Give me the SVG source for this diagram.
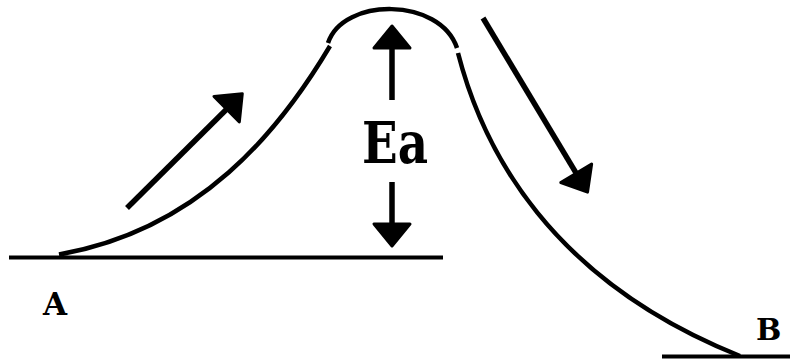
<svg xmlns="http://www.w3.org/2000/svg" width="790" height="359" viewBox="0 0 790 359">
  <style>
    .curve { fill: none; stroke: #000; stroke-width: 4.5; stroke-linecap: butt; }
    .level { fill: none; stroke: #000; stroke-width: 4; }
    .shaft { fill: none; stroke: #000; stroke-width: 5.5; marker-end: url(#head); }
    .lbl { font-family: "DejaVu Serif", "Liberation Serif", serif; font-weight: bold; fill: #000; }
  </style>
  <defs>
    <marker id="head" viewBox="0 0 24 38" refX="14" refY="19" markerWidth="24" markerHeight="38" markerUnits="userSpaceOnUse" orient="auto" overflow="visible">
      <path d="M1,1 L23,19 L1,37 Z" fill="#000" stroke="#000" stroke-width="3" stroke-linejoin="round"/>
    </marker>
  </defs>
  <rect width="790" height="359" fill="#fff"/>
  <g id="levelA">
    <line class="level" x1="9" y1="257.5" x2="443" y2="257.5"/>
  </g>
  <g id="levelB">
    <line class="level" x1="662" y1="356.5" x2="790" y2="356.5"/>
  </g>
  <g id="energy-curve">
    <path class="curve" d="M59,254.5 C200,230 280,130 330,46"/>
    <path class="curve" d="M328,43 C343,-3 440,-3 457,48"/>
    <path class="curve" d="M458,53 C483,150 550,280 740,356"/>
  </g>
  <g id="connectors">
    <line class="shaft" x1="392" y1="100" x2="392" y2="35"/>
    <line class="shaft" x1="392" y1="182" x2="392" y2="237"/>
    <line class="shaft" x1="127" y1="208" x2="235.9" y2="100"/>
    <line class="shaft" x1="483" y1="18" x2="582.9" y2="184.4"/>
  </g>
  <g id="label-Ea">
    <text class="lbl" x="362" y="163" font-size="57" textLength="66" lengthAdjust="spacingAndGlyphs">Ea</text>
  </g>
  <g id="label-A">
    <text class="lbl" x="43" y="315" font-size="31">A</text>
  </g>
  <g id="label-B">
    <text class="lbl" x="756" y="340" font-size="30">B</text>
  </g>
</svg>
